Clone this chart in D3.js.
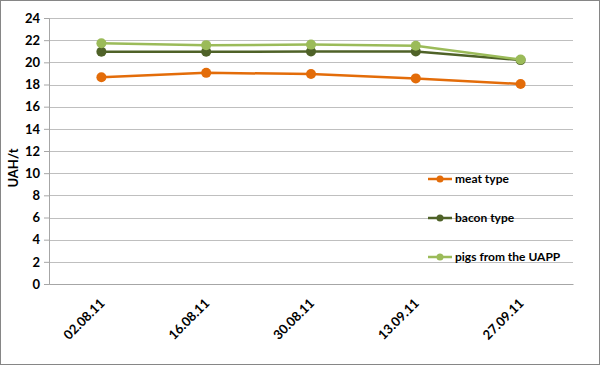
<!DOCTYPE html>
<html>
<head>
<meta charset="utf-8">
<script src="https://cdn.jsdelivr.net/npm/d3@7"></script>
<style>
  body { margin: 0; background: #fff; }
  text { font-family: Lato, "Open Sans", sans-serif; font-weight: bold; fill: #000; }
</style>
</head>
<body>
<div class="chart"></div>
<script>
// data
const dates = ['02.08.11', '16.08.11', '30.08.11', '13.09.11', '27.09.11'];
const meatType = [18.65, 19.05, 18.95, 18.55, 18.05];
const baconType = [20.95, 20.95, 20.97, 20.97, 20.2];
const pigsUAPP = [21.72, 21.55, 21.6, 21.5, 20.25];
const yTicks = [0, 2, 4, 6, 8, 10, 12, 14, 16, 18, 20, 22, 24];

const seriesList = [
  {name: 'meat type', values: meatType, color: '#E36C09'},
  {name: 'bacon type', values: baconType, color: '#4F6228'},
  {name: 'pigs from the UAPP', values: pigsUAPP, color: '#9BBB59'}
];

const svg_width = 600, svg_height = 365;
const margin = {top: 18, right: 27, bottom: 81, left: 49};
const chart_width = svg_width - margin.left - margin.right;
const chart_height = svg_height - margin.top - margin.bottom;

const svg = d3.select('.chart').append('svg')
  .attr('width', svg_width).attr('height', svg_height);

// outer frame
svg.append('rect')
  .attr('x', 0.5).attr('y', 0.5)
  .attr('width', svg_width - 1).attr('height', svg_height - 1)
  .attr('fill', '#fff').attr('stroke', '#868686');

const g = svg.append('g').attr('transform', `translate(${margin.left},${margin.top})`);

const xScale = d3.scaleBand().domain(dates).range([0, chart_width]);
const yScale = d3.scaleLinear().domain([0, 24]).range([chart_height, 0]);

// gridlines
g.selectAll('.grid').data(yTicks).enter().append('line')
  .attr('x1', 0).attr('x2', chart_width)
  .attr('y1', d => Math.round(yScale(d)) + 0.5).attr('y2', d => Math.round(yScale(d)) + 0.5)
  .attr('stroke', '#bfbfbf').attr('stroke-width', 1);

// y axis
const yAxis = d3.axisLeft(yScale).tickValues(yTicks).tickSize(5).tickPadding(4);
const yAxisDraw = g.append('g').call(yAxis);
yAxisDraw.selectAll('path, line').attr('stroke', '#a6a6a6');
yAxisDraw.selectAll('text').style('font-size', '13px');

// x axis
const xAxis = d3.axisBottom(xScale).tickSize(0).tickPadding(10);
const xAxisDraw = g.append('g').attr('transform', `translate(0,${chart_height})`).call(xAxis);
xAxisDraw.select('path').attr('stroke', '#a6a6a6');
xAxisDraw.selectAll('text')
  .style('font-size', '13px')
  .attr('text-anchor', 'end')
  .attr('dy', '0')
  .attr('transform', 'translate(-3,13) rotate(-45)');

// y label
g.append('text')
  .attr('transform', `translate(${-margin.left + 18},${chart_height / 2 + 17}) rotate(-90)`)
  .attr('text-anchor', 'middle')
  .style('font-size', '13px')
  .text('UAH/t');

// lines
const line = d3.line()
  .x((d, i) => xScale(dates[i]) + xScale.bandwidth() / 2)
  .y(d => yScale(d));

seriesList.forEach(s => {
  g.append('path')
    .datum(s.values)
    .attr('fill', 'none')
    .attr('stroke', s.color)
    .attr('stroke-width', 2.5)
    .attr('d', line);
  g.selectAll(null).data(s.values).enter().append('circle')
    .attr('cx', (d, i) => xScale(dates[i]) + xScale.bandwidth() / 2)
    .attr('cy', d => yScale(d))
    .attr('r', 5)
    .attr('fill', s.color);
});

// legend
const legend = svg.append('g').attr('transform', 'translate(428,179)');
seriesList.forEach((s, i) => {
  const row = legend.append('g').attr('transform', `translate(0,${i * 39})`);
  row.append('line').attr('x1', 0).attr('x2', 24).attr('y1', 0).attr('y2', 0)
    .attr('stroke', s.color).attr('stroke-width', 2.5);
  row.append('circle').attr('cx', 12).attr('cy', 0).attr('r', 3.5).attr('fill', s.color);
  row.append('text').attr('x', 27).attr('y', 4)
    .style('font-size', '12px')
    .text(s.name);
});
</script>
</body>
</html>
